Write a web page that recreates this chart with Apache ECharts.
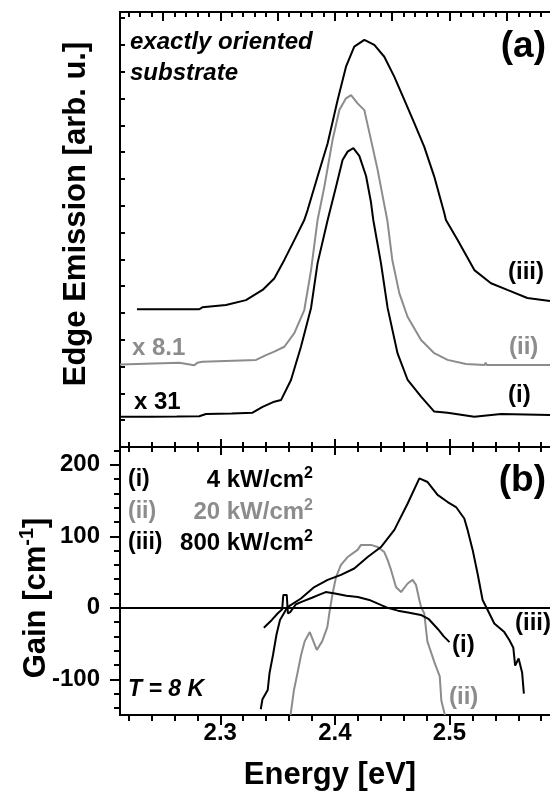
<!DOCTYPE html>
<html><head><meta charset="utf-8">
<script src="https://cdn.jsdelivr.net/npm/echarts/dist/echarts.min.js"></script>
<style>html,body{margin:0;padding:0;background:#fff}#c{width:550px;height:805px}</style>
</head><body><div id="c"></div>
<script>
// ---- data ----
const xMin = 2.2125, xMax = 2.5877;
const emMin = 0, emMax = 16.23;
const gainMin = -150, gainMax = 225;

const xTicksTopA = [2.25, 2.3, 2.35, 2.4, 2.45, 2.5, 2.55];
const xMinorTopA = [2.22,2.23,2.24,2.26,2.27,2.28,2.29,2.31,2.32,2.33,2.34,2.36,2.37,2.38,2.39,2.41,2.42,2.43,2.44,2.46,2.47,2.48,2.49,2.51,2.52,2.53,2.54,2.56,2.57,2.58];
const xMajor = [2.3, 2.4, 2.5];
const xMinor = [2.22,2.24,2.26,2.28,2.32,2.34,2.36,2.38,2.42,2.44,2.46,2.48,2.52,2.54,2.56,2.58];
const gainMajor = [-100, 0, 100, 200];
const gainMinor = [-140,-120,-80,-60,-40,-20,20,40,60,80,120,140,160,180,220];
const emTicks = [0,1,2,3,4,5,6,7,8,9,10,11,12,13,14,15,16];

// Edge emission (arb. units, offset)
const emI = [[2.2125,1.13],[2.240,1.13],[2.262,1.14],[2.2817,1.15],[2.2875,1.23],[2.31,1.25],[2.3282,1.28],[2.3369,1.50],[2.3471,1.69],[2.3530,1.75],[2.3617,2.50],[2.3704,3.74],[2.3792,5.19],[2.3849,6.86],[2.3937,8.47],[2.4010,9.71],[2.4067,10.71],[2.4111,11.02],[2.4161,11.15],[2.4213,10.86],[2.4272,10.11],[2.4315,9.13],[2.4335,8.47],[2.4402,6.86],[2.4460,5.19],[2.4547,3.49],[2.4635,2.50],[2.4752,1.88],[2.4867,1.32],[2.4983,1.28],[2.5217,1.13],[2.5450,1.23],[2.5877,1.19]];
const emII = [[2.2125,3.08],[2.2642,3.14],[2.2773,3.05],[2.2800,3.14],[2.2843,3.18],[2.3312,3.25],[2.3399,3.43],[2.3471,3.56],[2.3559,3.74],[2.3646,4.25],[2.3733,5.11],[2.3792,6.60],[2.3849,8.47],[2.3908,9.71],[2.3980,11.46],[2.4039,12.57],[2.4097,13.01],[2.4141,13.13],[2.4198,12.82],[2.4257,12.57],[2.4315,11.46],[2.4373,10.34],[2.4423,9.22],[2.4457,8.47],[2.4501,6.98],[2.4562,5.74],[2.4634,4.86],[2.4752,3.99],[2.4867,3.50],[2.4983,3.25],[2.5144,3.10],[2.5307,3.06],[2.5315,3.15],[2.5325,3.06],[2.5877,3.06]];
const emIII = [[2.2273,5.14],[2.2817,5.14],[2.2843,5.21],[2.3050,5.30],[2.3224,5.48],[2.3369,5.86],[2.3471,6.29],[2.3559,6.98],[2.3646,7.72],[2.3733,8.47],[2.3762,8.84],[2.3849,10.09],[2.3937,11.33],[2.4024,12.95],[2.4097,14.19],[2.4169,14.94],[2.4257,15.19],[2.4344,15.00],[2.4431,14.56],[2.4518,13.82],[2.4606,12.95],[2.4693,12.08],[2.4780,11.20],[2.4867,10.09],[2.4955,8.72],[2.4969,8.47],[2.5071,7.72],[2.5217,6.60],[2.5362,6.11],[2.5505,5.86],[2.5679,5.56],[2.5877,5.45]];

// Gain [cm^-1]
const gainI = [[2.338,-28],[2.345,-17],[2.350,-8],[2.354,-2],[2.355,18],[2.358,18],[2.359,-8],[2.361,-6],[2.366,5],[2.372,9],[2.38,14],[2.386,18],[2.392,22],[2.40,20],[2.41,17],[2.42,15],[2.43,11],[2.44,4],[2.446,0],[2.455,-4],[2.465,-7],[2.475,-10],[2.482,-16],[2.49,-30],[2.495,-40],[2.5,-48]];
const gainII = [[2.3613,-150],[2.3643,-115],[2.3674,-91],[2.3705,-66],[2.3736,-47],[2.3781,-34],[2.3842,-59],[2.3889,-47],[2.3934,-27],[2.3951,-8],[2.3980,20],[2.4010,43],[2.4053,60],[2.4111,71],[2.4198,81],[2.4228,88],[2.4315,88],[2.4373,85],[2.4431,78],[2.4460,67],[2.4490,53],[2.4533,29],[2.4577,22],[2.4635,34],[2.4678,39],[2.4708,32],[2.4737,11],[2.4752,1],[2.4780,-8],[2.4807,-47],[2.4868,-76],[2.4915,-96],[2.4929,-130],[2.4960,-150]];
const gainIII = [[2.3353,-142],[2.3368,-128],[2.3414,-115],[2.3430,-91],[2.3460,-66],[2.3491,-37],[2.3521,-17],[2.3587,1],[2.3704,13],[2.3820,29],[2.3937,39],[2.4053,46],[2.4169,55],[2.4286,71],[2.4402,85],[2.4519,109],[2.4635,146],[2.4737,181],[2.4809,176],[2.4896,158],[2.4984,148],[2.5057,141],[2.5129,125],[2.5158,109],[2.5202,81],[2.5245,48],[2.5289,11],[2.5333,-3],[2.5391,-22],[2.5478,-34],[2.5522,-45],[2.5557,-56],[2.5573,-81],[2.5603,-71],[2.5634,-91],[2.5649,-120]];

// ---- chart ----
const BLACK = '#000', GRAY = '#8c8c8c';
const F = '"Liberation Sans", Arial, sans-serif';
const gridL = 120, gridW = 430;
const chart = echarts.init(document.getElementById('c'), null, {renderer:'canvas'});

function xAx(grid, pos, ticks, len, inside, labels){
  return {type:'value', gridIndex:grid, position:pos, min:xMin, max:xMax,
    axisLine:{show:true, onZero:false, lineStyle:{color:BLACK, width:2}},
    axisTick:{show:true, customValues:ticks, length:len, inside:inside, lineStyle:{color:BLACK, width:2}},
    axisLabel: labels ? {show:true, customValues:labels, margin:6, color:BLACK, fontFamily:F, fontWeight:'bold', fontSize:24,
        formatter:v=>v.toFixed(1)} : {show:false},
    splitLine:{show:false}};
}
function yAx(grid, ticks, len, inside, labels, min, max){
  return {type:'value', gridIndex:grid, position:'left', min:min, max:max,
    axisLine:{show:true, onZero:false, lineStyle:{color:BLACK, width:2}},
    axisTick:{show:true, customValues:ticks, length:len, inside:inside, lineStyle:{color:BLACK, width:2}},
    axisLabel: labels ? {show:true, customValues:labels, margin:20, color:BLACK, fontFamily:F, fontWeight:'bold', fontSize:24} : {show:false},
    splitLine:{show:false}};
}
function line(data, color, xi, yi, extra){
  return Object.assign({type:'line', data:data, xAxisIndex:xi, yAxisIndex:yi, showSymbol:false, symbol:'none',
    lineStyle:{color:color, width:2}, itemStyle:{color:color}, animation:false, z:3}, extra||{});
}
function txt(x, y, text, opts){
  opts = opts||{};
  return {type:'text', x:x, y:y, rotation:opts.rot||0, z:10,
    style:{text:text, fill:opts.color||BLACK, font:(opts.style||'')+' bold '+(opts.size||22)+'px '+F,
      textAlign:opts.align||'left', textVerticalAlign:'middle', rich:opts.rich}};
}
const supRich = (size, color) => ({
  n:{font:'bold '+size+'px '+F, fill:color||BLACK},
  s:{font:'bold '+Math.round(size*0.65)+'px '+F, fill:color||BLACK, padding:[0,0,Math.round(size*0.55),0]}
});

const option = {
  animation:false,
  grid:[
    {left:gridL, top:12, width:gridW, height:435, outerBoundsMode:'none'},
    {left:gridL, top:447, width:gridW, height:268, outerBoundsMode:'none'}
  ],
  xAxis:[
    xAx(0,'top',xTicksTopA,9,true),
    xAx(0,'top',xMinorTopA,5,true),
    xAx(0,'bottom',xMajor,8,true),
    xAx(0,'bottom',xMinor,5,true),
    xAx(1,'top',xMajor,8,true),
    xAx(1,'top',xMinor,5,true),
    xAx(1,'bottom',xMajor,10,false,xMajor),
    xAx(1,'bottom',xMinor,6,false)
  ],
  yAxis:[
    yAx(0,emTicks,5,true,null,emMin,emMax),
    yAx(1,gainMajor,10,false,gainMajor,gainMin,gainMax),
    yAx(1,gainMinor,6,false,null,gainMin,gainMax)
  ],
  series:[
    line(emIII, BLACK, 0, 0),
    line(emII, GRAY, 0, 0),
    line(emI, BLACK, 0, 0),
    line(gainII, GRAY, 4, 1),
    line(gainI, BLACK, 4, 1),
    line(gainIII, BLACK, 4, 1, {markLine:{silent:true, symbol:['none','none'], label:{show:false},
      lineStyle:{color:BLACK, width:2, type:'solid'}, data:[{yAxis:0}], animation:false}})
  ],
  graphic:[
    txt(130, 42, 'exactly oriented', {style:'italic', size:24}),
    txt(130, 73, 'substrate', {style:'italic', size:24}),
    txt(546, 47, '(a)', {size:37, align:'right'}),
    txt(508, 272, '(iii)', {size:24}),
    txt(509, 347, '(ii)', {size:24, color:GRAY}),
    txt(508, 395, '(i)', {size:24}),
    txt(132, 348, 'x 8.1', {size:24, color:GRAY}),
    txt(134, 402, 'x 31', {size:24}),
    txt(76, 214, 'Edge Emission [arb. u.]', {size:31, align:'center', rot:Math.PI/2}),
    txt(546, 481, '(b)', {size:37, align:'right'}),
    txt(128, 480, '(i)', {size:23}),
    txt(128, 512, '(ii)', {size:23, color:GRAY}),
    txt(128, 543, '(iii)', {size:23}),
    txt(313, 480, '{n|4 kW/cm}{s|2}', {align:'right', rich:supRich(24)}),
    txt(313, 512, '{n|20 kW/cm}{s|2}', {align:'right', rich:supRich(24, GRAY)}),
    txt(313, 543, '{n|800 kW/cm}{s|2}', {align:'right', rich:supRich(24)}),
    txt(128, 690, 'T = 8 K', {style:'italic', size:23}),
    txt(452, 645, '(i)', {size:24}),
    txt(449, 697, '(ii)', {size:24, color:GRAY}),
    txt(515, 623, '(iii)', {size:24}),
    txt(330, 775, 'Energy [eV]', {size:31, align:'center'}),
    txt(36, 598, '{n|Gain [cm}{s|-1}{n|]}', {align:'center', rot:Math.PI/2, rich:supRich(31)})
  ]
};
chart.setOption(option);
</script></body></html>
